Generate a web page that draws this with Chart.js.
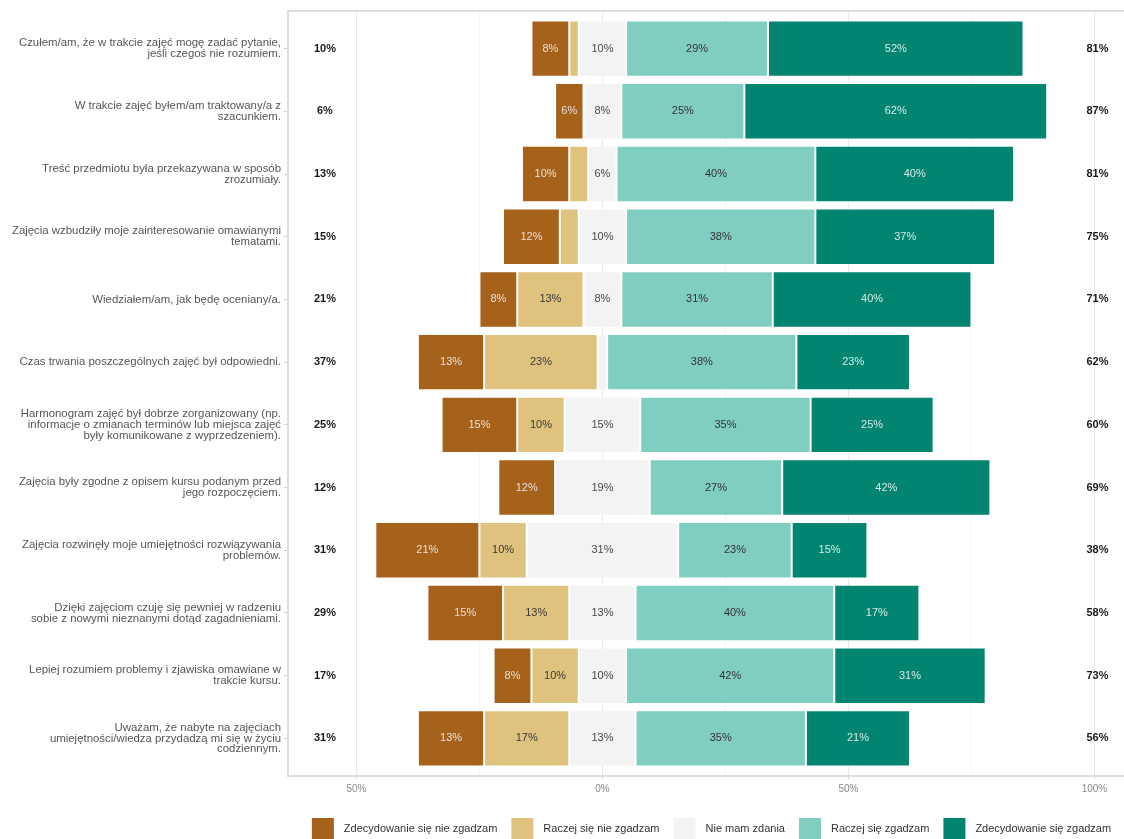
<!DOCTYPE html>
<html lang="pl">
<head>
<meta charset="utf-8">
<title>Ocena zajęć</title>
<script src="https://cdn.jsdelivr.net/npm/chart.js@4.4.1/dist/chart.umd.min.js"></script>
<style>
  html, body { margin: 0; padding: 0; background: #fff; }
  #wrap { width: 1124px; height: 839px; position: relative; }
</style>
</head>
<body>
<div id="wrap"><canvas id="likertChart"></canvas></div>
<script>
const categories = [
    ['Czułem/am, że w trakcie zajęć mogę zadać pytanie,', 'jeśli czegoś nie rozumiem.'],
    ['W trakcie zajęć byłem/am traktowany/a z', 'szacunkiem.'],
    ['Treść przedmiotu była przekazywana w sposób', 'zrozumiały.'],
    ['Zajęcia wzbudziły moje zainteresowanie omawianymi', 'tematami.'],
    ['Wiedziałem/am, jak będę oceniany/a.'],
    ['Czas trwania poszczególnych zajęć był odpowiedni.'],
    ['Harmonogram zajęć był dobrze zorganizowany (np.', 'informacje o zmianach terminów lub miejsca zajęć', 'były komunikowane z wyprzedzeniem).'],
    ['Zajęcia były zgodne z opisem kursu podanym przed', 'jego rozpoczęciem.'],
    ['Zajęcia rozwinęły moje umiejętności rozwiązywania', 'problemów.'],
    ['Dzięki zajęciom czuję się pewniej w radzeniu', 'sobie z nowymi nieznanymi dotąd zagadnieniami.'],
    ['Lepiej rozumiem problemy i zjawiska omawiane w', 'trakcie kursu.'],
    ['Uważam, że nabyte na zajęciach', 'umiejętności/wiedza przydadzą mi się w życiu', 'codziennym.']
];

const responses = ['Zdecydowanie się nie zgadzam', 'Raczej się nie zgadzam', 'Nie mam zdania', 'Raczej się zgadzam', 'Zdecydowanie się zgadzam'];

// percentages per answer, one value per statement (top to bottom)
const strongDisagree = [7.69, 5.77, 9.62, 11.54, 7.69, 13.46, 15.38, 11.54, 21.15, 15.38, 7.69, 13.46];
const disagree       = [1.92, 0, 3.85, 3.85, 13.46, 23.08, 9.62, 0, 9.62, 13.46, 9.62, 17.31];
const neutral        = [9.62, 7.69, 5.77, 9.62, 7.69, 1.92, 15.38, 19.23, 30.77, 13.46, 9.62, 13.46];
const agree          = [28.85, 25.00, 40.38, 38.46, 30.77, 38.46, 34.62, 26.92, 23.08, 40.38, 42.31, 34.62];
const strongAgree    = [51.92, 61.54, 40.38, 36.54, 40.38, 23.08, 25.00, 42.31, 15.38, 17.31, 30.77, 21.15];

const lowTotals  = [10, 6, 13, 15, 21, 37, 25, 12, 31, 29, 17, 31];
const highTotals = [81, 87, 81, 75, 71, 62, 60, 69, 38, 58, 73, 56];

const xTicks = [-50, -25, 0, 25, 50, 75, 100];

const series = [strongDisagree, disagree, neutral, agree, strongAgree];
const colors = ['#a6611a', '#dfc27d', '#f3f3f3', '#80cdc1', '#018571'];
const labelColors = ['#e6e0da', '#3a3a3a', '#4a4a4a', '#333333', '#d6e9e6'];

Chart.defaults.font.family = "'Liberation Sans', Arial, Helvetica, sans-serif";

const datasets = responses.map((name, k) => ({
    label: name,
    backgroundColor: colors[k],
    borderColor: 'rgba(255, 255, 255, 0.35)',
    borderWidth: c => series[k][c.dataIndex] > 0 ? 1 : 0,
    borderSkipped: false,
    grouped: false,
    barPercentage: 0.9,
    categoryPercentage: 1,
    data: categories.map((_, i) => {
        // neutral answer is centred on zero
        let start = -(strongDisagree[i] + disagree[i] + neutral[i] / 2);
        for (let j = 0; j < k; j++) start += series[j][i];
        return { y: i + 1, x: [start, start + series[k][i]] };
    })
}));

const panelTop = {
    id: 'panelTop',
    afterDatasetsDraw(chart) {
        const { ctx, chartArea } = chart;
        ctx.save();
        ctx.strokeStyle = '#dedede';
        ctx.lineWidth = 2;
        ctx.beginPath();
        ctx.moveTo(chartArea.left, chartArea.top);
        ctx.lineTo(chartArea.right, chartArea.top);
        ctx.stroke();
        ctx.restore();
    }
};

const barLabels = {
    id: 'barLabels',
    afterDatasetsDraw(chart) {
        const ctx = chart.ctx;
        const xScale = chart.scales.x;
        const yScale = chart.scales.y;
        ctx.save();
        ctx.textAlign = 'center';
        ctx.textBaseline = 'middle';
        ctx.font = "11px 'Liberation Sans', Arial, sans-serif";
        chart.data.datasets.forEach((ds, k) => {
            chart.getDatasetMeta(k).data.forEach((bar, i) => {
                const v = series[k][i];
                if (v < 5) return;
                const { x, base, y } = bar.getProps(['x', 'base', 'y'], true);
                ctx.fillStyle = labelColors[k];
                ctx.fillText(Math.round(v) + '%', (x + base) / 2, y);
            });
        });

        // totals of disagree / agree at both sides
        ctx.font = "bold 11px 'Liberation Sans', Arial, sans-serif";
        ctx.fillStyle = '#1a1a1a';
        categories.forEach((_, i) => {
            const y = yScale.getPixelForValue(i + 1);
            ctx.fillText(lowTotals[i] + '%', xScale.getPixelForValue(-56.4), y);
            ctx.fillText(highTotals[i] + '%', xScale.getPixelForValue(100.6), y);
        });
        ctx.restore();
    }
};

const bottomLegend = {
    id: 'bottomLegend',
    afterDraw(chart) {
        const ctx = chart.ctx;
        const box = 22;
        const gap = 10;
        const spacing = 14;
        const yMid = 829;
        ctx.save();
        ctx.font = "11px 'Liberation Sans', Arial, sans-serif";
        ctx.textBaseline = 'middle';
        ctx.textAlign = 'left';
        const widths = responses.map(r => ctx.measureText(r).width);
        const total = widths.reduce((s, w) => s + box + gap + w, 0) + spacing * (responses.length - 1);
        let x = 711.5 - total / 2;
        responses.forEach((r, k) => {
            ctx.fillStyle = colors[k];
            ctx.fillRect(x, yMid - box / 2, box, box);
            ctx.fillStyle = '#333333';
            ctx.fillText(r, x + box + gap, yMid);
            x += box + gap + widths[k] + spacing;
        });
        ctx.restore();
    }
};

const ctx = document.getElementById('likertChart').getContext('2d');
const chart = new Chart(ctx, {
    type: 'bar',
    data: { datasets: datasets },
    plugins: [panelTop, barLabels, bottomLegend],
    options: {
        indexAxis: 'y',
        responsive: true,
        maintainAspectRatio: false,
        animation: false,
        layout: { padding: { top: 11, right: 0, bottom: 0, left: 0 } },
        plugins: {
            legend: { display: false },
            tooltip: { enabled: false }
        },
        scales: {
            x: {
                type: 'linear',
                min: -63.9,
                max: 106,
                afterBuildTicks: axis => { axis.ticks = xTicks.map(v => ({ value: v })); },
                afterFit: axis => { axis.height = 63; },
                grid: {
                    color: c => (c.tick && c.tick.value % 50 === 0) ? '#e8e8e8' : '#f4f4f4',
                    tickColor: c => (c.tick && c.tick.value % 50 === 0) ? '#d0d0d0' : 'rgba(0,0,0,0)',
                    tickLength: 3
                },
                border: { display: true, color: '#dedede', width: 2 },
                ticks: {
                    autoSkip: false,
                    maxRotation: 0,
                    padding: 4,
                    color: '#8a8a8a',
                    font: { size: 10 },
                    callback: v => v % 50 === 0 ? Math.abs(v) + '%' : ''
                }
            },
            y: {
                type: 'linear',
                min: 0.4,
                max: 12.6,
                reverse: true,
                offset: false,
                afterBuildTicks: axis => { axis.ticks = categories.map((_, i) => ({ value: i + 1 })); },
                afterFit: axis => {
                    axis.width = 288;
                    axis.paddingTop = 0;
                    axis.paddingBottom = 0;
                },
                grid: { offset: false, drawOnChartArea: false, tickLength: 4, color: '#d0d0d0' },
                border: { display: true, color: '#dedede', width: 2 },
                ticks: {
                    autoSkip: false,
                    padding: 3,
                    color: '#555555',
                    font: { size: 11.4, lineHeight: 0.95 },
                    callback: v => categories[v - 1]
                }
            }
        }
    }
});
</script>
</body>
</html>
